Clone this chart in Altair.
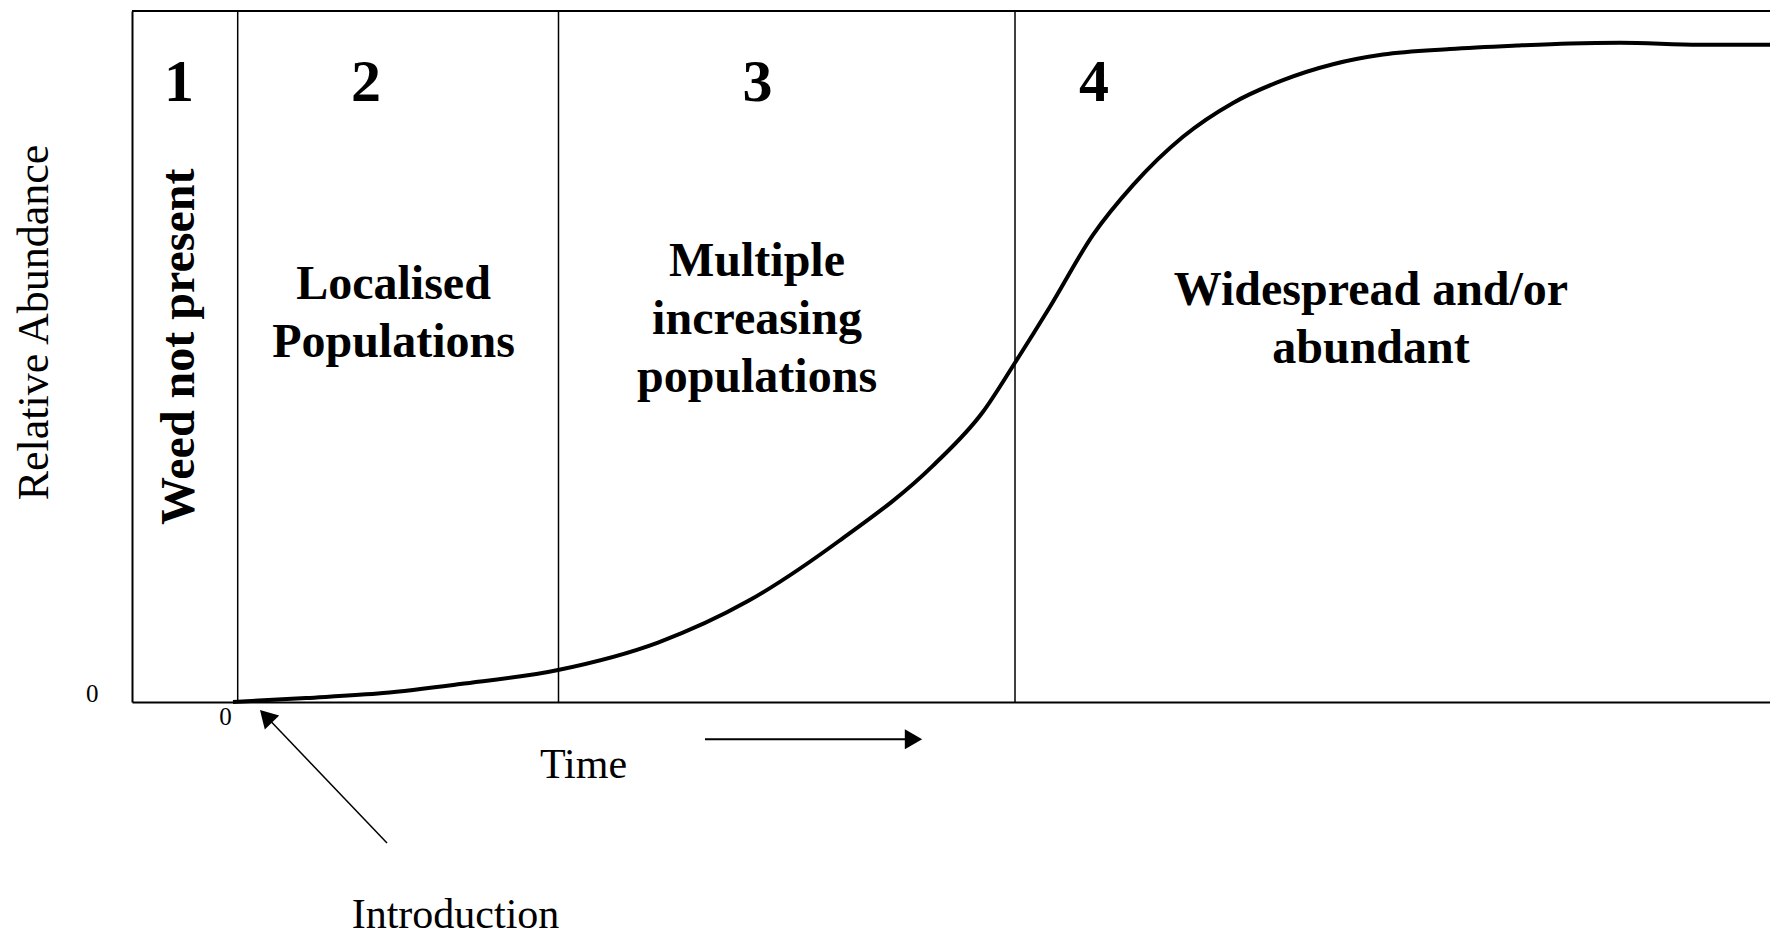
import altair as alt
import pandas as pd

FONT = "Liberation Serif"

# Curve: time (arbitrary units) vs relative abundance (0-100)
curve_t = [0.0, 7.3, 15.0, 22.7, 32.5, 42.5, 51.5, 60.6, 70.0, 75.0, 78.2,
           81.7, 86.0, 90.0, 95.0, 100.0, 105.0, 110.0, 115.0, 121.7, 128.4,
           133.7, 138.7, 146.7, 153.7]
curve_y = [0.0, 0.58, 1.30, 2.60, 4.63, 8.6, 14.6, 23.3, 34.2, 42.0, 49.1,
           57.2, 67.6, 74.8, 81.8, 86.7, 90.0, 92.3, 93.7, 94.5, 95.0,
           95.3, 95.4, 95.1, 95.1]

x_domain = [-10.1, 153.7]
y_domain = [0, 100]

# Stage boundaries
divider_t = [0.47, 32.55, 78.2]

# Stage numbers
stage_num = ["1", "2", "3", "4"]
stage_num_t = [-5.4, 13.3, 52.45, 86.1]
stage_num_y = [89.6, 89.6, 89.6, 89.6]

# Stage descriptions (y = position of first line)
stage_txt = ["Localised\nPopulations", "Multiple\nincreasing\npopulations",
             "Widespread and/or\nabundant"]
stage_txt_t = [16.05, 52.4, 113.8]
stage_txt_y = [60.3, 63.7, 59.5]

rot_txt = ["Weed not present"]
rot_txt_t = [-5.3]
rot_txt_y = [51.4]

# Annotations (arrows, Introduction label)
time_arrow_t = [47.2, 67.2]
time_arrow_y = [-5.4]
time_head = [68.05, -5.4]
intro_arrow_t = [15.4, 3.3]
intro_arrow_y = [-20.4, -2.07]
intro_head = [3.3, -2.07]
intro_label = ["Introduction"]
intro_label_t = [22.25]
intro_label_y = [-32.7]

xs = alt.Scale(domain=x_domain, nice=False, zero=False)
ys = alt.Scale(domain=y_domain, nice=False, zero=False)

curve_df = pd.DataFrame({"t": curve_t, "y": curve_y})

base_axes = alt.Chart(curve_df).mark_line(
    interpolate="monotone", strokeWidth=4, color="black", strokeCap="butt"
).encode(
    x=alt.X("t:Q", scale=xs, axis=alt.Axis(
        values=[0], title="Time", titleFont=FONT, titleFontSize=42,
        titleFontWeight="normal", titleColor="black", titleX=451, titleY=75,
        titleAlign="center", titleBaseline="alphabetic",
        labelFont=FONT, labelFontSize=25, labelColor="black", labelOffset=-8,
        labelPadding=14, labelBaseline="middle",
        ticks=False, tickSize=0, grid=False,
        domainColor="black", domainWidth=2)),
    y=alt.Y("y:Q", scale=ys, axis=alt.Axis(
        values=[0], title="Relative Abundance", titleFont=FONT, titleFontSize=44,
        titleFontWeight="normal", titleColor="black", titleX=-98, titleY=311,
        titleAngle=270, titleAlign="center", titleBaseline="middle",
        labelFont=FONT, labelFontSize=25, labelColor="black", labelOffset=-9,
        labelPadding=34, ticks=False, tickSize=0, grid=False,
        domainColor="black", domainWidth=2)),
)

div_df = pd.DataFrame({"t": divider_t, "y0": [0] * 3, "y1": [100] * 3})
dividers = alt.Chart(div_df).mark_rule(color="black", strokeWidth=1.5).encode(
    x=alt.X("t:Q", scale=xs), y=alt.Y("y0:Q", scale=ys), y2="y1:Q")

top_df = pd.DataFrame({"a": [x_domain[0]], "b": [x_domain[1]], "y": [100]})
top_line = alt.Chart(top_df).mark_rule(color="black", strokeWidth=2).encode(
    x=alt.X("a:Q", scale=xs), x2="b:Q", y=alt.Y("y:Q", scale=ys))

num_df = pd.DataFrame({"s": stage_num, "t": stage_num_t, "y": stage_num_y})
nums = alt.Chart(num_df).mark_text(
    font=FONT, fontSize=60, fontWeight="bold", color="black",
    align="center", baseline="middle").encode(
    x=alt.X("t:Q", scale=xs), y=alt.Y("y:Q", scale=ys), text="s:N")

txt_df = pd.DataFrame({"s": stage_txt, "t": stage_txt_t, "y": stage_txt_y})
txts = alt.Chart(txt_df).mark_text(
    font=FONT, fontSize=48, fontWeight="bold", color="black",
    align="center", baseline="middle", lineBreak="\n", lineHeight=58).encode(
    x=alt.X("t:Q", scale=xs), y=alt.Y("y:Q", scale=ys), text="s:N")

rot_df = pd.DataFrame({"s": rot_txt, "t": rot_txt_t, "y": rot_txt_y})
rot = alt.Chart(rot_df).mark_text(
    font=FONT, fontSize=48, fontWeight="bold", color="black",
    align="center", baseline="middle", angle=270).encode(
    x=alt.X("t:Q", scale=xs), y=alt.Y("y:Q", scale=ys), text="s:N")

ta_df = pd.DataFrame({"a": [time_arrow_t[0]], "b": [time_arrow_t[1]],
                      "y": time_arrow_y})
time_line = alt.Chart(ta_df).mark_rule(color="black", strokeWidth=2).encode(
    x=alt.X("a:Q", scale=xs), x2="b:Q", y=alt.Y("y:Q", scale=ys))
th_df = pd.DataFrame({"t": [time_head[0]], "y": [time_head[1]]})
time_tip = alt.Chart(th_df).mark_point(
    shape="triangle-right", filled=True, size=400, color="black", opacity=1).encode(
    x=alt.X("t:Q", scale=xs), y=alt.Y("y:Q", scale=ys))

ia_df = pd.DataFrame({"a": [intro_arrow_t[0]], "b": [intro_arrow_t[1]],
                      "ya": [intro_arrow_y[0]], "yb": [intro_arrow_y[1]]})
intro_line = alt.Chart(ia_df).mark_rule(color="black", strokeWidth=1.5).encode(
    x=alt.X("a:Q", scale=xs), x2="b:Q",
    y=alt.Y("ya:Q", scale=ys), y2="yb:Q")
ih_df = pd.DataFrame({"t": [intro_head[0]], "y": [intro_head[1]]})
intro_tip = alt.Chart(ih_df).mark_point(
    shape="triangle-up", filled=True, size=400, color="black", opacity=1,
    angle=316).encode(
    x=alt.X("t:Q", scale=xs), y=alt.Y("y:Q", scale=ys))

il_df = pd.DataFrame({"s": intro_label, "t": intro_label_t, "y": intro_label_y})
intro_txt = alt.Chart(il_df).mark_text(
    font=FONT, fontSize=42, color="black", align="center",
    baseline="alphabetic").encode(
    x=alt.X("t:Q", scale=xs), y=alt.Y("y:Q", scale=ys), text="s:N")

chart = alt.layer(
    dividers, top_line, base_axes, nums, txts, rot,
    time_line, time_tip, intro_line, intro_tip, intro_txt
).properties(
    width=1638, height=691,
    autosize=alt.AutoSizeParams(type="none"),
    padding={"left": 124, "top": 3, "right": 0, "bottom": 232},
    background="white",
).configure_view(stroke=None)

chart.save("out.html", embed_options={"renderer": "svg", "actions": False})
